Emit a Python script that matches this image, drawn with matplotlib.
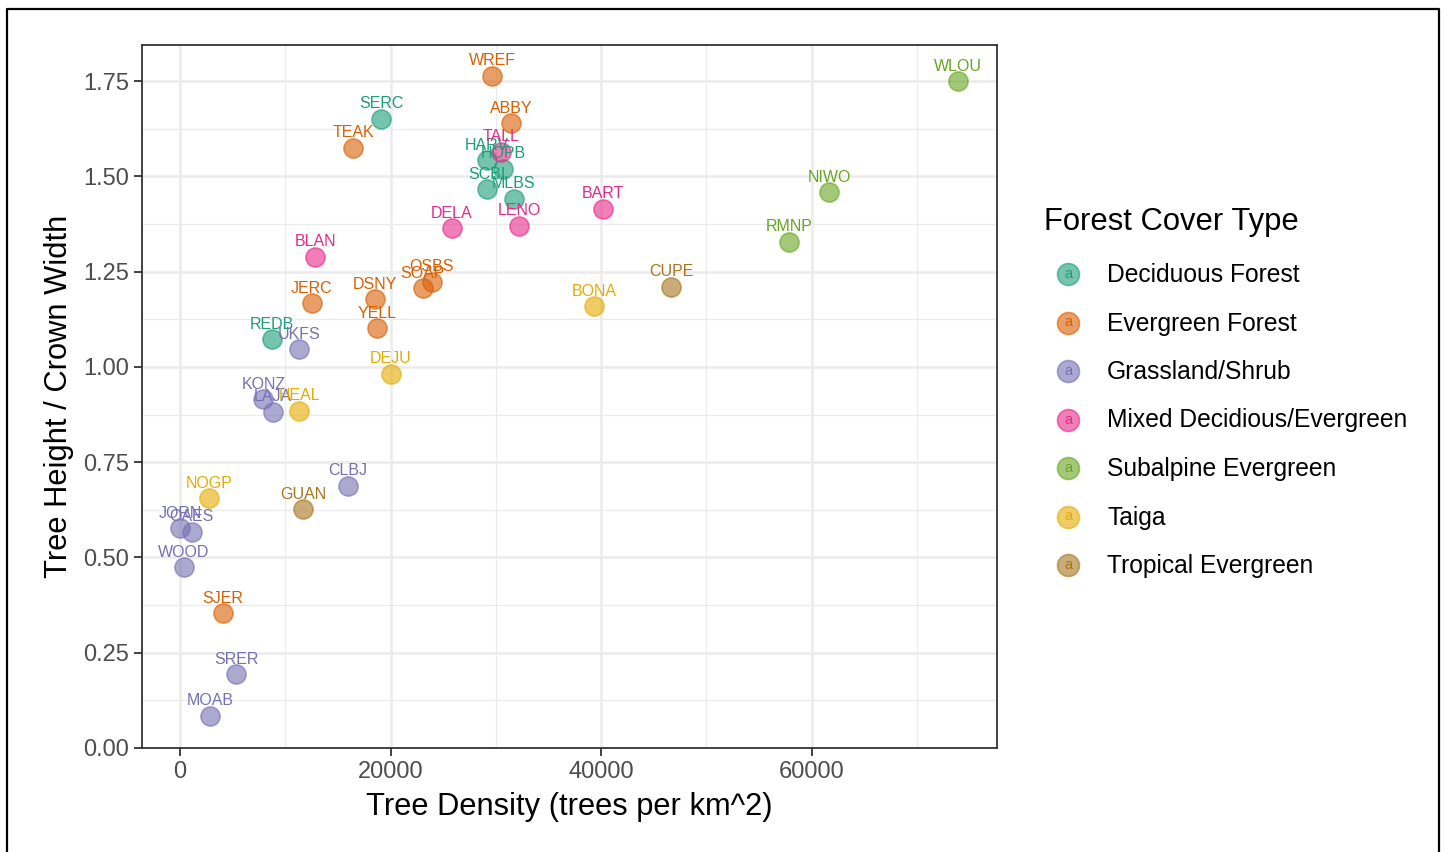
import matplotlib
matplotlib.use("Agg")
import matplotlib.pyplot as plt
from matplotlib.ticker import MultipleLocator
from matplotlib.lines import Line2D

plt.rcParams['font.family'] = ['Liberation Sans', 'DejaVu Sans']

# ---------------- data ----------------
categories = ["Deciduous Forest", "Evergreen Forest", "Grassland/Shrub",
              "Mixed Decidious/Evergreen", "Subalpine Evergreen", "Taiga",
              "Tropical Evergreen"]
colors = ["#1B9E77", "#D95F02", "#7570B3", "#E7298A", "#66A61E", "#E6AB02", "#A6761D"]

sites = ["SERC", "HARV", "HOPB", "SCBI", "MLBS", "REDB",
         "WREF", "ABBY", "TEAK", "OSBS", "SOAP", "DSNY", "JERC", "YELL", "SJER",
         "UKFS", "KONZ", "LAJA", "CLBJ", "JORN", "OAES", "WOOD", "SRER", "MOAB",
         "TALL", "DELA", "LENO", "BART", "BLAN",
         "WLOU", "NIWO", "RMNP",
         "BONA", "DEJU", "HEAL", "NOGP",
         "CUPE", "GUAN"]
site_type = ["Deciduous Forest"] * 6 + ["Evergreen Forest"] * 9 + ["Grassland/Shrub"] * 9 + \
            ["Mixed Decidious/Evergreen"] * 5 + ["Subalpine Evergreen"] * 3 + ["Taiga"] * 4 + \
            ["Tropical Evergreen"] * 2
density = [19100, 29140, 30720, 29140, 31730, 8770,
           29640, 31450, 16440, 23910, 23060, 18530, 12510, 18750, 4090,
           11340, 7920, 8800, 15960, 0, 1110, 380, 5320, 2850,
           30500, 25810, 32240, 40160, 12830,
           73920, 61660, 57860,
           39330, 20050, 11340, 2760,
           46650, 11720]
ratio = [1.651, 1.543, 1.520, 1.466, 1.441, 1.073,
         1.764, 1.640, 1.575, 1.224, 1.207, 1.178, 1.167, 1.102, 0.354,
         1.046, 0.915, 0.883, 0.688, 0.577, 0.568, 0.474, 0.194, 0.084,
         1.565, 1.364, 1.370, 1.415, 1.289,
         1.750, 1.459, 1.328,
         1.160, 0.982, 0.885, 0.655,
         1.210, 0.626]

W, H = 1444, 852
fig = plt.figure(figsize=(W / 100, H / 100), dpi=100)
fig.patch.set_facecolor("white")

ax = fig.add_axes([142 / W, 1 - 748 / H, (997 - 142) / W, (748 - 45) / H])
ax.set_xlim(-3610, 77620)
ax.set_ylim(0, 1.845)
ax.xaxis.set_major_locator(MultipleLocator(20000))
ax.xaxis.set_minor_locator(MultipleLocator(10000))
ax.yaxis.set_major_locator(MultipleLocator(0.25))
ax.yaxis.set_minor_locator(MultipleLocator(0.125))
ax.yaxis.set_major_formatter(matplotlib.ticker.FormatStrFormatter('%.2f'))
ax.grid(which="major", color="#EBEBEB", linewidth=1.8)
ax.grid(which="minor", color="#EBEBEB", linewidth=0.9)
ax.set_axisbelow(True)
for s in ax.spines.values():
    s.set_color("#333333")
    s.set_linewidth(1.3)
ax.tick_params(which="major", direction="out", length=6, width=1.3, color="#333333",
               labelsize=17, labelcolor="#4D4D4D", pad=3)
ax.tick_params(which="minor", length=0)

cmap = dict(zip(categories, colors))
for cat in categories:
    xs = [d for d, t in zip(density, site_type) if t == cat]
    ys = [r for r, t in zip(ratio, site_type) if t == cat]
    ax.scatter(xs, ys, s=190, color=cmap[cat], alpha=0.6, edgecolors=cmap[cat],
               linewidths=1.2, zorder=3)
for name, d, r, t in zip(sites, density, ratio, site_type):
    ax.annotate(name, (d, r), xytext=(0, 10.5), textcoords="offset pixels",
                ha="center", va="baseline", fontsize=11.5, color=cmap[t], zorder=4)

ax.set_xlabel("Tree Density (trees per km^2)", fontsize=22.2, labelpad=7)
ax.set_ylabel("Tree Height / Crown Width", fontsize=22.2, labelpad=7)

# ---------------- legend (overlay in pixel coords) ----------------
ov = fig.add_axes([0, 0, 1, 1], zorder=5)
ov.set_xlim(0, W)
ov.set_ylim(H, 0)
ov.axis("off")
ov.text(1044, 222, "Forest Cover Type", fontsize=22.3, va="center", ha="left", color="black")
for i, (cat, col) in enumerate(zip(categories, colors)):
    y = 275 + 48.5 * i
    ov.scatter([1068], [y - 1], s=250, color=col, alpha=0.6, edgecolors=col, linewidths=1.2)
    ov.text(1068, y - 1, "a", fontsize=10.5, ha="center", va="center", color=col)
    ov.text(1107, y, cat, fontsize=17.7, ha="left", va="center", color="black")

# figure frame (top, left, right)
ov.add_line(Line2D([7, 7, 1439, 1439], [H, 9, 9, H], color="black", linewidth=1.6))

fig.savefig("out.png", dpi=100, facecolor="white")
